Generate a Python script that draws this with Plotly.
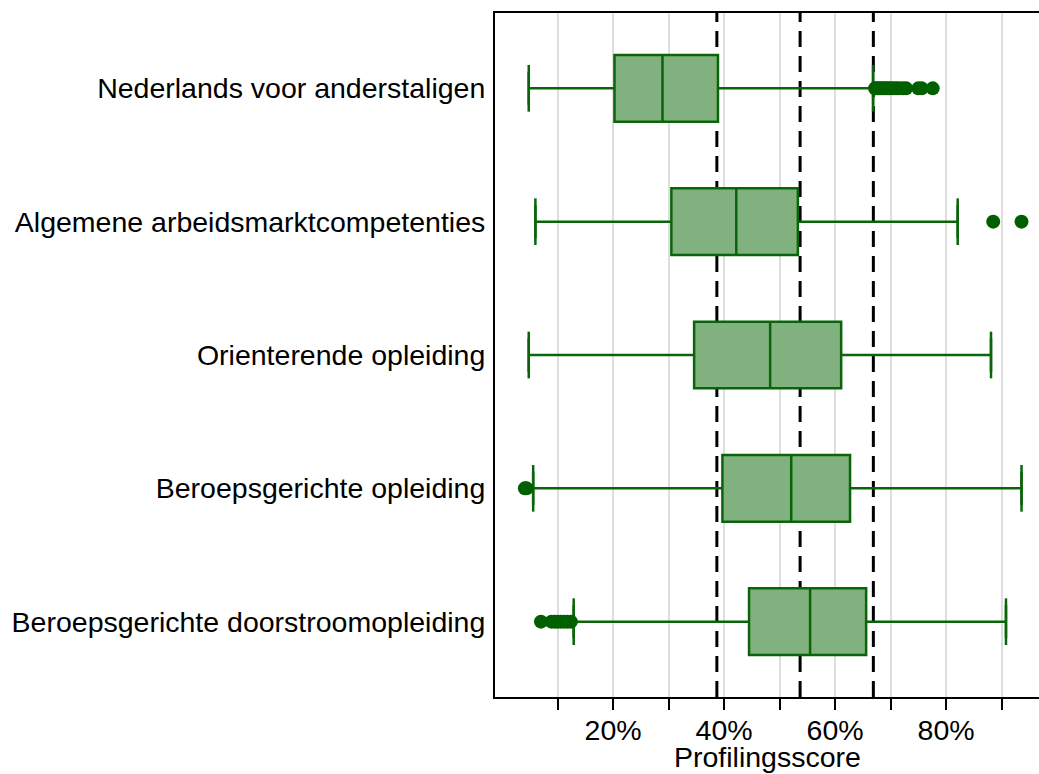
import plotly.graph_objects as go

# categorieen (van boven naar beneden)
categories = [
    "Nederlands voor anderstaligen",
    "Algemene arbeidsmarktcompetenties",
    "Orienterende opleiding",
    "Beroepsgerichte opleiding",
    "Beroepsgerichte doorstroomopleiding",
]

# boxplot statistieken (aandeel, 0-1)
lower_whisker = [0.048, 0.060, 0.048, 0.056, 0.129]
q1 = [0.2025, 0.305, 0.346, 0.397, 0.445]
median = [0.289, 0.422, 0.483, 0.521, 0.555]
q3 = [0.389, 0.533, 0.611, 0.627, 0.656]
upper_whisker = [0.6685, 0.821, 0.881, 0.936, 0.908]

# uitschieters per categorie
outliers = [
    [0.672, 0.676, 0.680, 0.684, 0.688, 0.692, 0.696, 0.700, 0.705, 0.710,
     0.715, 0.722, 0.728, 0.750, 0.756, 0.776],
    [0.885, 0.936],
    [],
    [0.041, 0.044],
    [0.070, 0.089, 0.095, 0.100, 0.106, 0.112, 0.118, 0.124],
]

# referentielijnen (gestippeld)
ref_lines = [0.387, 0.537, 0.669]

# x-as ticks
tick_vals = [0.1, 0.2, 0.3, 0.4, 0.5, 0.6, 0.7, 0.8, 0.9]
tick_text = ["", "20%", "", "40%", "", "60%", "", "80%", ""]

line_green = "#0a650a"
fill_green = "#80b17e"
font_family = "Liberation Sans, Arial, sans-serif"

fig = go.Figure()

rows = list(range(len(categories)))

fig.add_trace(go.Box(
    y=rows, q1=q1, median=median, q3=q3,
    lowerfence=lower_whisker, upperfence=upper_whisker,
    orientation="h", width=0.5,
    fillcolor=fill_green, line=dict(color=line_green, width=2.5),
    boxpoints=False, showlegend=False, hoverinfo="skip",
))

# whisker caps
cap = 0.175
cx, cy = [], []
for i in rows:
    for v in (lower_whisker[i], upper_whisker[i]):
        cx += [v, v, None]
        cy += [i - cap, i + cap, None]
fig.add_trace(go.Scatter(x=cx, y=cy, mode="lines",
                         line=dict(color=line_green, width=2.5),
                         showlegend=False, hoverinfo="skip"))

ox, oy = [], []
for i, vals in enumerate(outliers):
    ox += vals
    oy += [i] * len(vals)
fig.add_trace(go.Scatter(x=ox, y=oy, mode="markers",
                         marker=dict(color="#006000", size=14),
                         showlegend=False, hoverinfo="skip"))

for v in ref_lines:
    fig.add_shape(type="line", x0=v, x1=v, y0=0, y1=1, yref="paper",
                  layer="below", line=dict(color="black", width=3, dash="16px,9px"))

fig.add_annotation(text="Profilingsscore", xref="paper", yref="paper",
                   x=0.5, y=0, yanchor="middle", yshift=-60, showarrow=False,
                   font=dict(size=28.5))

fig.update_layout(
    width=1039, height=774,
    margin=dict(l=495, r=0, t=13, b=77),
    paper_bgcolor="white", plot_bgcolor="white",
    font=dict(family=font_family, size=28.5, color="black"),
    xaxis=dict(
        range=[-0.0128, 0.9675],
        tickvals=tick_vals, ticktext=tick_text,
        ticks="outside", ticklen=11, tickwidth=2, tickcolor="black",
        ticklabelstandoff=-4,
        showgrid=True, gridcolor="#dedede", gridwidth=2,
        showline=True, linecolor="black", linewidth=2, mirror=True,
        zeroline=False,
        automargin=False,
    ),
    yaxis=dict(
        range=[4.565, -0.565],
        tickvals=rows, ticktext=categories,
        ticks="", showgrid=False, zeroline=False,
        showline=True, linecolor="black", linewidth=2,
        ticklabelstandoff=2,
        automargin=False,
    ),
)

# geen paginamarge / scrollbalk
fig.write_html("out.html", config={"displayModeBar": False},
               post_script="document.body.style.margin='0';"
                           "document.body.style.overflow='hidden';")
